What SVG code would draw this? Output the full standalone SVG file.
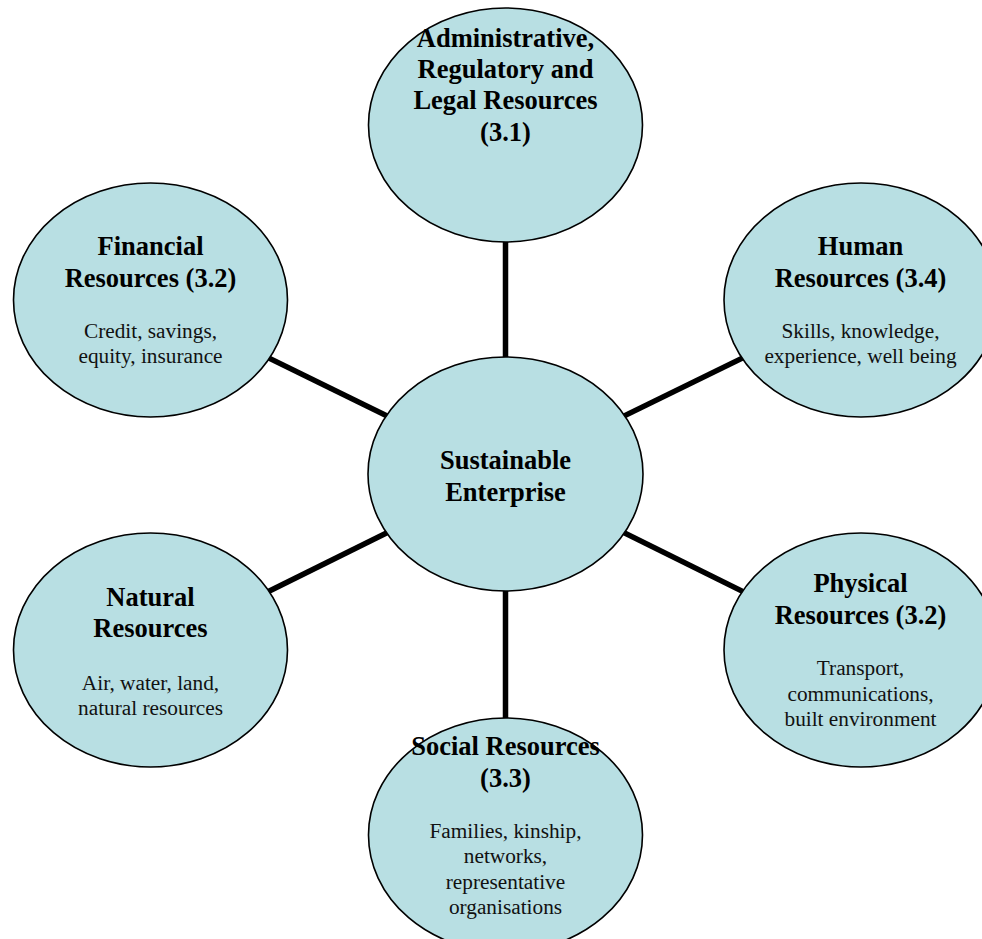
<svg xmlns="http://www.w3.org/2000/svg" width="982" height="939" viewBox="0 0 982 939">
  <style>
    .node ellipse { fill: #b8dfe3; stroke: #000; stroke-width: 1.6; }
    .title { font-family: "Liberation Serif", "Times New Roman", serif; font-size: 26.5px; font-weight: bold; fill: #000; text-anchor: middle; }
    .desc { font-family: "Liberation Serif", "Times New Roman", serif; font-size: 21.3px; fill: #111; text-anchor: middle; }
    .links line { stroke: #000; stroke-width: 5.5; }
  </style>
  <rect width="982" height="939" fill="#fff"/>

  <!-- spokes from the hub to each resource, drawn under the ellipses -->
  <g id="connectors" class="links">
    <line x1="505.5" y1="474" x2="505.5" y2="125"/>
    <line x1="505.5" y1="474" x2="505.5" y2="835"/>
    <line x1="505.5" y1="474" x2="150.5" y2="300"/>
    <line x1="505.5" y1="474" x2="150.5" y2="650"/>
    <line x1="505.5" y1="474" x2="861" y2="300"/>
    <line x1="505.5" y1="474" x2="861" y2="650"/>
  </g>

  <g id="admin" class="node">
    <ellipse cx="505.5" cy="125" rx="137" ry="117"/>
    <text class="title" x="505.5" y="47">Administrative,</text>
    <text class="title" x="505.5" y="78">Regulatory and</text>
    <text class="title" x="505.5" y="109">Legal Resources</text>
    <text class="title" x="505.5" y="141">(3.1)</text>
  </g>

  <g id="financial" class="node">
    <ellipse cx="150.5" cy="300" rx="137" ry="117"/>
    <text class="title" x="150.5" y="255">Financial</text>
    <text class="title" x="150.5" y="287">Resources (3.2)</text>
    <text class="desc" x="150.5" y="338">Credit, savings,</text>
    <text class="desc" x="150.5" y="363">equity, insurance</text>
  </g>

  <g id="human" class="node">
    <ellipse cx="861" cy="300" rx="137" ry="117"/>
    <text class="title" x="860.5" y="255">Human</text>
    <text class="title" x="860.5" y="287">Resources (3.4)</text>
    <text class="desc" x="860.5" y="338">Skills, knowledge,</text>
    <text class="desc" x="860.5" y="363">experience, well being</text>
  </g>

  <g id="enterprise" class="node">
    <ellipse cx="505.5" cy="474" rx="137.5" ry="117"/>
    <text class="title" x="505.5" y="469">Sustainable</text>
    <text class="title" x="505.5" y="501">Enterprise</text>
  </g>

  <g id="natural" class="node">
    <ellipse cx="150.5" cy="650" rx="137" ry="117"/>
    <text class="title" x="150.5" y="606">Natural</text>
    <text class="title" x="150.5" y="637">Resources</text>
    <text class="desc" x="150.5" y="690">Air, water, land,</text>
    <text class="desc" x="150.5" y="715">natural resources</text>
  </g>

  <g id="physical" class="node">
    <ellipse cx="861" cy="650" rx="137" ry="117"/>
    <text class="title" x="860.5" y="592">Physical</text>
    <text class="title" x="860.5" y="624">Resources (3.2)</text>
    <text class="desc" x="860.5" y="675">Transport,</text>
    <text class="desc" x="860.5" y="701">communications,</text>
    <text class="desc" x="860.5" y="726">built environment</text>
  </g>

  <g id="social" class="node">
    <ellipse cx="505.5" cy="835" rx="137" ry="117"/>
    <text class="title" x="505.5" y="755">Social Resources</text>
    <text class="title" x="505.5" y="787">(3.3)</text>
    <text class="desc" x="505.5" y="838">Families, kinship,</text>
    <text class="desc" x="505.5" y="863">networks,</text>
    <text class="desc" x="505.5" y="889">representative</text>
    <text class="desc" x="505.5" y="914">organisations</text>
  </g>
</svg>
